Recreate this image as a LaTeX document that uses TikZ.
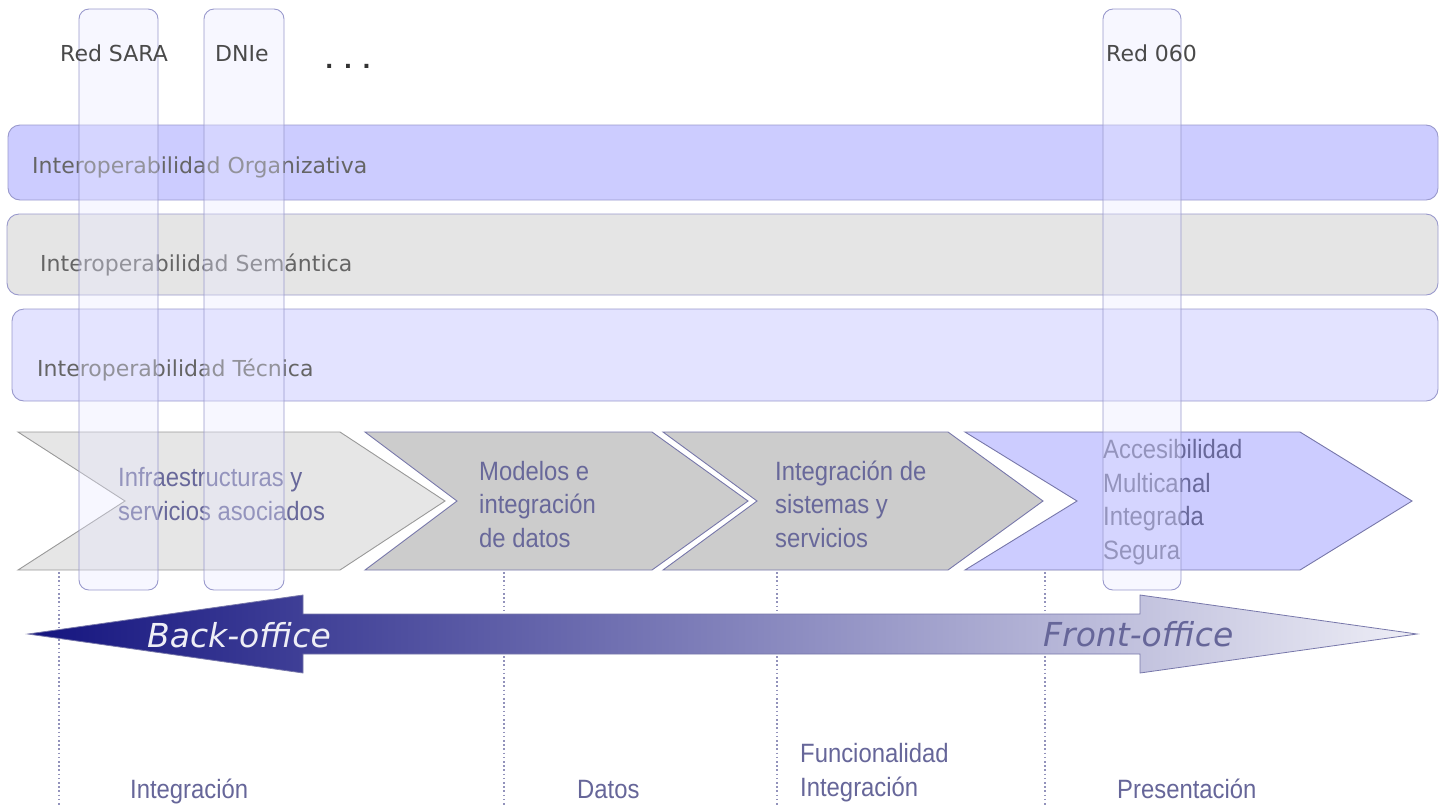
\documentclass[tikz,border=0pt]{standalone}
\usepackage{fontspec}
\setmainfont{DejaVu Sans}
\newfontfamily\chevfont[FakeStretch=0.9]{Liberation Sans}
\usetikzlibrary{positioning}

\definecolor{bandorg}{HTML}{CCCCFF}
\definecolor{bandsem}{HTML}{E5E5E5}
\definecolor{bandtec}{HTML}{E3E3FF}
\definecolor{lavline}{HTML}{9999CC}
\definecolor{chevline}{HTML}{7777AA}
\definecolor{chevgrey}{HTML}{CCCCCC}
\definecolor{chevlight}{HTML}{E6E6E6}
\definecolor{chevtext}{HTML}{68689A}
\definecolor{colfill}{HTML}{E8E8FF}
\definecolor{navy}{HTML}{14147F}
\definecolor{midblue}{HTML}{6262A8}
\definecolor{pale}{HTML}{EEEEF6}
\definecolor{slate}{HTML}{666699}
\definecolor{labelgrey}{HTML}{4A4A4A}

\tikzset{
	band/.style={draw=lavline, line width=0.9pt, rounded corners=12pt},
	column/.style={draw=lavline, line width=0.9pt, fill=colfill, fill opacity=0.35, rounded corners=10pt},
	chevron/.style={draw=chevline, line width=0.9pt},
	toplabel/.style={anchor=base west, inner sep=0pt, text=labelgrey, font=\fontsize{22}{26}\selectfont},
	chevlabel/.style={anchor=base west, inner sep=0pt, align=left, text=chevtext, font=\chevfont\fontsize{26.5}{33.5}\selectfont},
	officelabel/.style={anchor=base west, inner sep=0pt, font=\itshape\fontsize{33}{36}\selectfont},
	guide/.style={draw=chevline!80, line width=1.3pt, dash pattern=on 1.6pt off 2.6pt}
}

\begin{document}
\begin{tikzpicture}[x=1pt, y=-1pt]
			\useasboundingbox (0, 0) rectangle (1439, 807);
			
			% interoperability layers
			\draw[band, fill=bandorg] (8, 125) rectangle (1438, 200);
			\draw[band, fill=bandsem] (7, 214) rectangle (1438, 295);
			\draw[band, fill=bandtec] (12, 309) rectangle (1438, 401);
			\node[toplabel, text=labelgrey!85] (org) at (32, 173) {Interoperabilidad Organizativa};
			\node[toplabel, text=labelgrey!85] (sem) at (40, 271) {Interoperabilidad Semántica};
			\node[toplabel, text=labelgrey!85] (tec) at (37, 376) {Interoperabilidad Técnica};
			
			% value chain
			\draw[draw=gray!80, line width=0.9pt, fill=chevlight] (18, 432) -- (340, 432) -- (445, 501) -- (340, 570) -- (18, 570) -- (125, 501) -- cycle;
			\draw[chevron, fill=chevgrey] (365, 432) -- (652, 432) -- (748, 501) -- (652, 570) -- (365, 570) -- (457, 501) -- cycle;
			\draw[chevron, fill=chevgrey] (663, 432) -- (948, 432) -- (1043, 501) -- (948, 570) -- (663, 570) -- (757, 501) -- cycle;
			\draw[chevron, fill=bandorg] (965, 432) -- (1300, 432) -- (1412, 501) -- (1300, 570) -- (965, 570) -- (1077, 501) -- cycle;
			\node[chevlabel] (infra) at (118, 520) {Infraestructuras y\\servicios asociados};
			\node[chevlabel] (datos) at (479, 547) {Modelos e\\integración\\de datos};
			\node[chevlabel] (sist) at (775, 547) {Integración de\\sistemas y\\servicios};
			\node[chevlabel] (acc) at (1103, 559) {Accesibilidad\\Multicanal\\Integrada\\Segura};
			
			% vertical services
			\draw[column] (79, 9) rectangle (158, 590);
			\draw[column] (204, 9) rectangle (284, 590);
			\draw[column] (1103, 9) rectangle (1181, 590);
			\node[toplabel] (sara) at (60, 61) {Red SARA};
			\node[toplabel] (dnie) at (215, 61) {DNIe};
			\node[toplabel, text=black!80, font=\bfseries\fontsize{22}{26}\selectfont] (dots) at (325, 68) {. . .};
			\node[toplabel] (red060) at (1106, 61) {Red 060};
			
			% layer guides
			\foreach \gx in {59, 504, 777, 1045}
				\draw[guide] (\gx, 572) -- (\gx, 807);
			
			% back-office / front-office arrow
			\draw[draw=chevline, line width=0.8pt, left color=navy, middle color=midblue, right color=pale] (28, 634) -- (303, 595) -- (303, 614) -- (1140, 614) -- (1140, 595) -- (1417, 634) -- (1140, 673) -- (1140, 654) -- (303, 654) -- (303, 673) -- cycle;
			\node[officelabel, text=pale] (back) at (147, 647) {Back-office};
			\node[officelabel, text=slate] (front) at (1043, 646) {Front-office};
			
			% layers
			\node[chevlabel, text=slate] (integ) at (130, 798) {Integración};
			\node[chevlabel, text=slate] (dat) at (577, 798) {Datos};
			\node[chevlabel, text=slate] (func) at (800, 796) {Funcionalidad\\Integración};
			\node[chevlabel, text=slate] (pres) at (1117, 798) {Presentación};
			
		\end{tikzpicture}
\end{document}
